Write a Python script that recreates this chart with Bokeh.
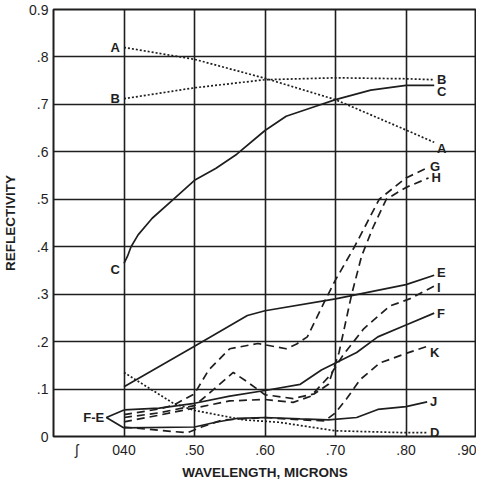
from bokeh.plotting import figure
from bokeh.models import FixedTicker
from bokeh.core.properties import value
from bokeh.embed import file_html
from bokeh.resources import INLINE

# ---- data ----
x_ticks = [0.4, 0.5, 0.6, 0.7, 0.8, 0.9]
x_tick_labels = ["040", ".50", ".60", ".70", ".80", ".90"]
x_break = 0.333          # axis-break mark position
y_ticks = [0.0, 0.1, 0.2, 0.3, 0.4, 0.5, 0.6, 0.7, 0.8, 0.9]
y_tick_labels = ["0", ".1", ".2", ".3", ".4", ".5", ".6", ".7", ".8", "0.9"]

A_x = [0.40, 0.50, 0.60, 0.70, 0.80, 0.84]
A_y = [0.82, 0.795, 0.755, 0.71, 0.646, 0.62]
B_x = [0.40, 0.50, 0.60, 0.70, 0.80, 0.84]
B_y = [0.712, 0.735, 0.752, 0.756, 0.754, 0.752]
C_x = [0.40, 0.405, 0.41, 0.42, 0.44, 0.47, 0.50, 0.53, 0.56, 0.60, 0.63, 0.67, 0.70, 0.75, 0.80, 0.84]
C_y = [0.365, 0.38, 0.40, 0.425, 0.46, 0.50, 0.54, 0.565, 0.595, 0.645, 0.675, 0.695, 0.71, 0.73, 0.74, 0.74]
D_x = [0.40, 0.47, 0.50, 0.57, 0.62, 0.70, 0.80, 0.83]
D_y = [0.135, 0.07, 0.055, 0.035, 0.03, 0.012, 0.008, 0.008]
E_x = [0.40, 0.50, 0.575, 0.60, 0.70, 0.80, 0.84]
E_y = [0.105, 0.19, 0.255, 0.265, 0.29, 0.32, 0.34]
F_x = [0.40, 0.45, 0.50, 0.55, 0.60, 0.65, 0.68, 0.70, 0.73, 0.76, 0.80, 0.84]
F_y = [0.056, 0.06, 0.07, 0.085, 0.097, 0.11, 0.14, 0.155, 0.177, 0.21, 0.235, 0.26]
G_x = [0.40, 0.45, 0.47, 0.50, 0.52, 0.55, 0.59, 0.63, 0.645, 0.66, 0.688, 0.70, 0.727, 0.762, 0.80, 0.83]
G_y = [0.046, 0.058, 0.066, 0.09, 0.14, 0.185, 0.196, 0.185, 0.195, 0.21, 0.295, 0.33, 0.40, 0.50, 0.545, 0.566]
H_x = [0.40, 0.45, 0.50, 0.52, 0.555, 0.575, 0.60, 0.64, 0.67, 0.69, 0.705, 0.723, 0.737, 0.753, 0.772, 0.80, 0.832]
H_y = [0.04, 0.05, 0.065, 0.09, 0.135, 0.115, 0.088, 0.08, 0.09, 0.11, 0.177, 0.30, 0.38, 0.44, 0.50, 0.525, 0.545]
I_x = [0.40, 0.45, 0.50, 0.55, 0.60, 0.64, 0.665, 0.693, 0.71, 0.74, 0.777, 0.805, 0.84]
I_y = [0.031, 0.045, 0.06, 0.075, 0.078, 0.072, 0.085, 0.13, 0.17, 0.227, 0.275, 0.29, 0.317]
J_x = [0.40, 0.50, 0.53, 0.56, 0.60, 0.65, 0.69, 0.73, 0.76, 0.80, 0.83]
J_y = [0.018, 0.02, 0.03, 0.038, 0.04, 0.037, 0.035, 0.04, 0.057, 0.063, 0.073]
K_x = [0.40, 0.45, 0.49, 0.51, 0.54, 0.60, 0.65, 0.685, 0.70, 0.716, 0.735, 0.763, 0.80, 0.83]
K_y = [0.02, 0.013, 0.008, 0.02, 0.035, 0.04, 0.035, 0.033, 0.05, 0.08, 0.12, 0.155, 0.175, 0.19]
FE_leader_x = [0.40, 0.375, 0.40]
FE_leader_y = [0.056, 0.04, 0.018]

INK = "#1e1e1e"
FONT = "Liberation Sans"

p = figure(width=476, height=482, output_backend="svg", toolbar_location=None,
           x_range=(0.30, 0.90), y_range=(0.0, 0.9),
           min_border_left=0, min_border_right=0, min_border_top=9, min_border_bottom=0)
p.background_fill_color = "white"
p.border_fill_color = "white"
p.outline_line_color = INK
p.outline_line_width = 2

p.xaxis.ticker = FixedTicker(ticks=[x_break] + x_ticks)
p.yaxis.ticker = FixedTicker(ticks=y_ticks)
xo = dict(zip(x_ticks, x_tick_labels))
xo[x_break] = "ʃ"
p.xaxis.major_label_overrides = xo
p.yaxis.major_label_overrides = dict(zip(y_ticks, y_tick_labels))
for ax in (p.xaxis, p.yaxis):
    ax.major_tick_line_color = None
    ax.minor_tick_line_color = None
    ax.major_tick_out = 0
    ax.major_tick_in = 0
    ax.minor_tick_out = 0
    ax.minor_tick_in = 0
    ax.axis_line_color = None
    ax.major_label_text_font = FONT
    ax.major_label_text_font_size = "14px"
    ax.major_label_text_color = INK
    ax.axis_label_text_font = FONT
    ax.axis_label_text_font_style = "bold"
    ax.axis_label_text_font_size = "13.5px"
    ax.axis_label_text_color = INK
p.xaxis.axis_label = "WAVELENGTH, MICRONS"
p.yaxis.axis_label = "REFLECTIVITY"
p.xaxis.major_label_standoff = 5
p.yaxis.major_label_standoff = 5
p.xaxis.axis_label_standoff = 4
p.yaxis.axis_label_standoff = 8

p.xgrid.ticker = FixedTicker(ticks=x_ticks)
p.ygrid.ticker = FixedTicker(ticks=y_ticks)
for g in (p.xgrid, p.ygrid):
    g.grid_line_color = INK
    g.grid_line_width = 1.6
    g.grid_line_alpha = 1.0

lw = 1.7
dot = "2 2"
dash = "8 5"
p.line(A_x, A_y, line_color=INK, line_width=lw, line_dash=dot)
p.line(B_x, B_y, line_color=INK, line_width=lw, line_dash=dot)
p.line(D_x, D_y, line_color=INK, line_width=lw, line_dash=dot)
p.line(C_x, C_y, line_color=INK, line_width=lw)
p.line(E_x, E_y, line_color=INK, line_width=lw)
p.line(F_x, F_y, line_color=INK, line_width=lw)
p.line(J_x, J_y, line_color=INK, line_width=lw)
p.line(G_x, G_y, line_color=INK, line_width=lw, line_dash=dash)
p.line(H_x, H_y, line_color=INK, line_width=lw, line_dash=dash)
p.line(I_x, I_y, line_color=INK, line_width=lw, line_dash=dash)
p.line(K_x, K_y, line_color=INK, line_width=lw, line_dash=dash)
p.line(FE_leader_x, FE_leader_y, line_color=INK, line_width=lw)

# curve labels, placed from the data ends
end_series = {"A": (A_x, A_y), "B": (B_x, B_y), "C": (C_x, C_y), "D": (D_x, D_y),
              "E": (E_x, E_y), "F": (F_x, F_y), "G": (G_x, G_y), "H": (H_x, H_y),
              "I": (I_x, I_y), "J": (J_x, J_y), "K": (K_x, K_y)}
nudge = {"A": -0.012, "B": 0.0, "C": -0.012, "G": 0.004, "H": 0.0, "E": 0.006,
         "I": -0.004, "F": 0.0, "K": -0.014, "J": 0.0, "D": 0.0}
rx = [s[0][-1] + 0.004 for s in end_series.values()]
ry = [s[1][-1] + nudge[k] for k, s in end_series.items()]
p.text(x=rx, y=ry, text=list(end_series.keys()), text_font=value(FONT),
       text_font_style="bold", text_font_size="13px", text_color=INK,
       text_align="left", text_baseline="middle")
left_keys = ["A", "B", "C"]
lx = [end_series[k][0][0] - 0.006 for k in left_keys]
ly = [end_series[k][1][0] + (-0.012 if k == "C" else 0.0) for k in left_keys]
p.text(x=lx, y=ly, text=left_keys, text_font=value(FONT),
       text_font_style="bold", text_font_size="13px", text_color=INK,
       text_align="right", text_baseline="middle")
p.text(x=[FE_leader_x[1] - 0.003], y=[FE_leader_y[1]], text=["F-E"], text_font=value(FONT),
       text_font_style="bold", text_font_size="13px", text_color=INK,
       text_align="right", text_baseline="middle")

open("out.html", "w").write(file_html(p, INLINE))
